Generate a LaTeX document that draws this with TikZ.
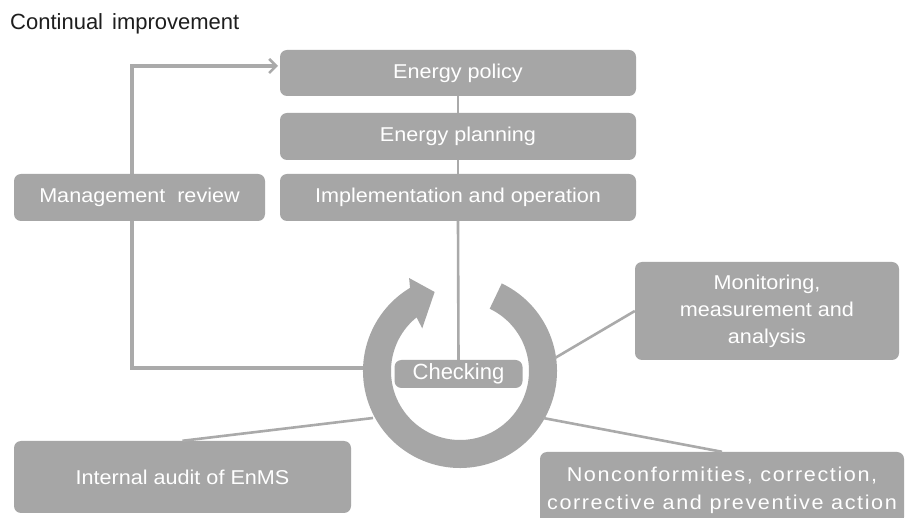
\documentclass[tikz,border=0pt]{standalone}
\usepackage{fontspec}
\setmainfont{Liberation Sans}
\newfontfamily\boxfont{Liberation Sans}[FakeStretch=1.08]
\usetikzlibrary{arrows.meta}
\definecolor{boxgray}{HTML}{A6A6A6}
\definecolor{linegray}{HTML}{AAAAAA}
\definecolor{titlecol}{HTML}{1E1E1E}
\tikzset{
  box/.style={fill=boxgray, rounded corners=7pt, text=white, align=center, inner sep=0pt,
    font=\boxfont\fontsize{20}{27}\selectfont},
  conn/.style={draw=linegray, line width=2.6pt},
  feedback/.style={draw=linegray, line width=3.2pt},
}
\begin{document}
\begin{tikzpicture}[x=1pt,y=-1pt]
\clip (0,0) rectangle (906,518);
\fill[white] (0,0) rectangle (906,518);

% title
\node[anchor=base west, inner sep=0pt, text=titlecol, font=\fontsize{22}{24}\selectfont] (title) at (10,30) {Continual\hspace{9pt}improvement};

% named coordinates
\coordinate (ringL) at (363,368);
\coordinate (fbC1) at (132,368);
\coordinate (fbC2) at (132,66);
\coordinate (fbEnd) at (278,66);
\coordinate (ringR) at (555,358);
\coordinate (ringBR) at (543,418);
\coordinate (ringBL) at (373,418);

% feedback line (behind the boxes)
\draw[feedback, -{Straight Barb[length=7pt,width=14pt,line width=2.6pt]}] (ringL) -- (fbC1) -- (fbC2) -- (fbEnd);

% boxes
\node[box, minimum width=356pt, minimum height=46pt] (policy) at (458,73) {Energy policy};
\node[box, minimum width=356pt, minimum height=47pt] (planning) at (458,136.5) {Energy planning};
\node[box, minimum width=356pt, minimum height=47pt] (impl) at (458,197.5) {Implementation and operation};
\node[box, minimum width=251pt, minimum height=47pt] (mgmt) at (139.5,197.5) {Management\hspace{12pt}review};
\node[box, minimum width=264pt, minimum height=98pt] (monitor) at (767,311) {Monitoring,\\measurement and\\analysis};
\node[box, minimum width=337pt, minimum height=72pt] (audit) at (182.5,477) {Internal audit of EnMS};
\node[box, minimum width=364pt, minimum height=72pt, text depth=0pt,
      font=\boxfont\fontsize{20}{28}\selectfont\addfontfeature{LetterSpace=8}] (nonconf) at (722,488)
      {Nonconformities, correction,\\corrective and preventive action};

% vertical connectors
\draw[conn] (policy.south) -- (planning.north);
\draw[conn] (planning.south) -- (impl.north);

% ring with arrowhead
\begin{scope}[shift={(460,371)}, yscale=-1]
  \fill[boxgray] (64.5:97) arc[start angle=64.5, end angle=-239, radius=97]
    -- (118.7:106) -- (107.8:83) -- (131.5:57) -- (-231:69)
    arc[start angle=-231, end angle=64.5, radius=69] -- cycle;
\end{scope}

% checking box and its connectors
\node[box, minimum width=128pt, minimum height=28pt, font=\fontsize{22}{24}\selectfont] (checking) at (458.5,374) {Checking};
\draw[conn] (impl.south) -- (checking.north);
\draw[conn] (ringR) -- (monitor.west);
\draw[conn] (ringBR) -- (nonconf.north);
\draw[conn] (ringBL) -- (audit.north);
\end{tikzpicture}
\end{document}
